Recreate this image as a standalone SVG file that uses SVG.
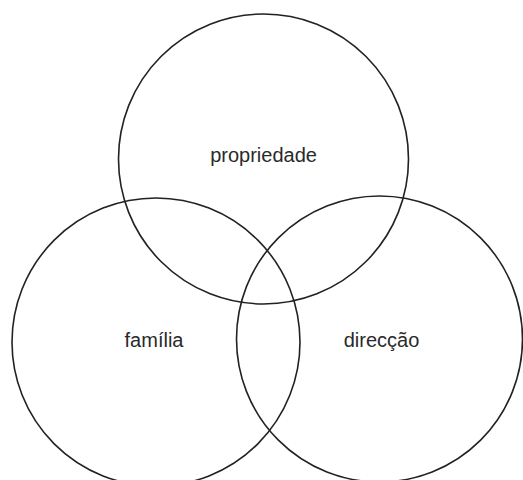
<svg xmlns="http://www.w3.org/2000/svg" width="523" height="480" viewBox="0 0 523 480">
<style>
.c{fill:none;stroke:#222;stroke-width:1.6}
.t{font-family:"Liberation Sans",Arial,sans-serif;font-size:20px;fill:#2a2a2a;text-anchor:middle}
</style>
<rect width="523" height="480" fill="#fff"/>
<g id="propriedade">
<circle class="c" cx="263.5" cy="159" r="145"/>
<text class="t" x="263.5" y="162">propriedade</text>
</g>
<g id="familia">
<circle class="c" cx="156" cy="342" r="144"/>
<text class="t" x="154" y="347">família</text>
</g>
<g id="direccao">
<circle class="c" cx="379.5" cy="339" r="143"/>
<text class="t" x="381.5" y="347">direcção</text>
</g>
<g id="connectors"/>
</svg>
